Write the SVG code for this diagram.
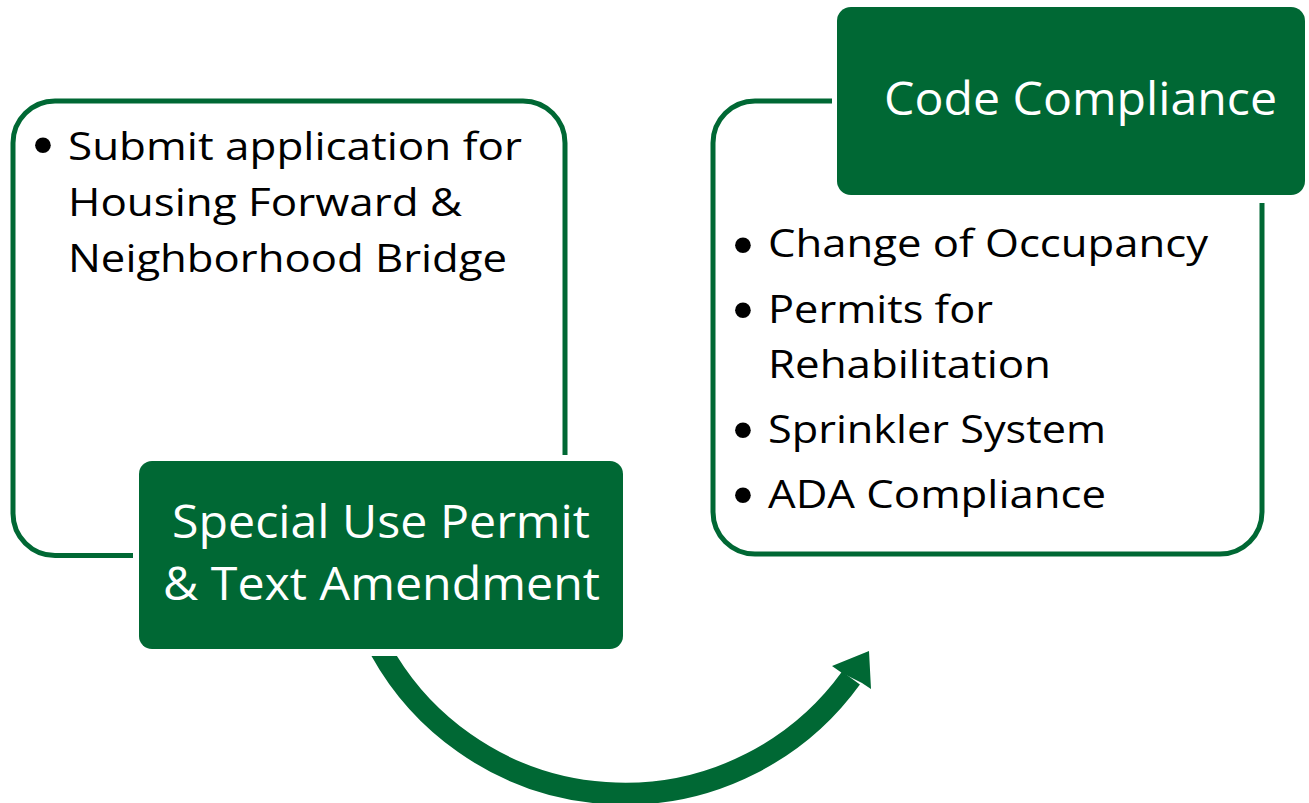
<svg xmlns="http://www.w3.org/2000/svg" width="1309" height="803" viewBox="0 0 1309 803">
<defs>
<style>
.outline{fill:none;stroke:#006834;stroke-width:5}
.hdr{fill:#006834}
.body{font-family:"Open Sans","Liberation Sans",sans-serif;font-size:39px;fill:#000}
.bul{font-family:"DejaVu Sans",sans-serif;font-size:54px;fill:#000;text-anchor:middle}
.hd{font-family:"Open Sans","Liberation Sans",sans-serif;font-size:46px;fill:#fff}
</style>
<clipPath id="arcClip"><rect x="0" y="656" width="1309" height="147"/></clipPath>
</defs>
<rect width="1309" height="803" fill="#fff"/>
<g id="node-submit">
<path class="outline" d="M133,555.5 H55 A42,42 0 0 1 13,513.5 V143 A42,42 0 0 1 55,101 H523 A42,42 0 0 1 565,143 V455"/>
<text class="bul" x="43" y="165">•</text>
<text class="body" x="68" y="160" textLength="454" lengthAdjust="spacingAndGlyphs">Submit application for</text>
<text class="body" x="68" y="216" textLength="394" lengthAdjust="spacingAndGlyphs">Housing Forward &amp;</text>
<text class="body" x="68" y="272" textLength="439" lengthAdjust="spacingAndGlyphs">Neighborhood Bridge</text>
</g>
<g id="node-special-use">
<rect class="hdr" x="139" y="461" width="484" height="188" rx="13"/>
<text class="hd" x="172" y="538" textLength="418" lengthAdjust="spacingAndGlyphs">Special Use Permit</text>
<text class="hd" x="163" y="600" textLength="437" lengthAdjust="spacingAndGlyphs">&amp; Text Amendment</text>
</g>
<g id="node-code-list">
<path class="outline" d="M832,101 H755 A42,42 0 0 0 713,143 V512 A42,42 0 0 0 755,554 H1220 A42,42 0 0 0 1262,512 V203"/>
<text class="bul" x="743" y="265">•</text>
<text class="body" x="768" y="257" textLength="440" lengthAdjust="spacingAndGlyphs">Change of Occupancy</text>
<text class="bul" x="743" y="330">•</text>
<text class="body" x="768" y="323" textLength="225" lengthAdjust="spacingAndGlyphs">Permits for</text>
<text class="body" x="768" y="378" textLength="283" lengthAdjust="spacingAndGlyphs">Rehabilitation</text>
<text class="bul" x="743" y="450">•</text>
<text class="body" x="768" y="443" textLength="338" lengthAdjust="spacingAndGlyphs">Sprinkler System</text>
<text class="bul" x="743" y="515">•</text>
<text class="body" x="768" y="508" textLength="338" lengthAdjust="spacingAndGlyphs">ADA Compliance</text>
</g>
<g id="node-code-compliance">
<rect class="hdr" x="837" y="7" width="468" height="188" rx="14"/>
<text class="hd" x="884" y="115" textLength="393" lengthAdjust="spacingAndGlyphs">Code Compliance</text>
</g>
<g id="connectors">
<path d="M378,645 A279,279 0 0 0 851,678" fill="none" stroke="#006834" stroke-width="22" clip-path="url(#arcClip)"/>
<polygon points="869,651 832,666 842,673 862,683 871,689" fill="#006834"/>
</g>
</svg>
